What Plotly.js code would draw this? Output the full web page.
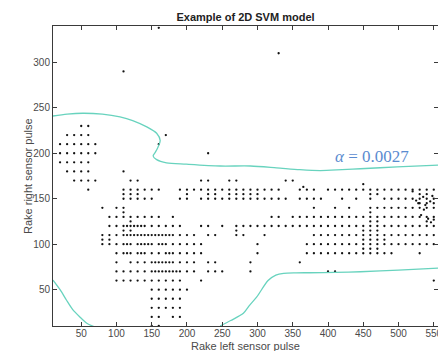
<!DOCTYPE html>
<html>
<head>
<meta charset="utf-8">
<script src="https://cdn.plot.ly/plotly-3.0.1.min.js"></script>
<style>html,body{margin:0;padding:0;background:#fff;}#chart{width:438px;height:351px;}</style>
</head>
<body>
<div id="chart"></div>
<script>
// ---- Data: sample points, grouped by y level ----
const rowY = [230,220,210,200,190,180,170,166,163,160,155,150,145,140,135,130,125,120,115,110,105,100,95,90,80,70,60,50,40,30,20,10];
const rowX = [
  [50,60],
  [30,40,50,60],
  [20,30,40,50,60,70],
  [20,30,40,50,60,70],
  [20,30,40,50,60],
  [30,40,50,60,110],
  [40,50,60,70,120,130,220,230,260,270,340,350],
  [450],
  [365],
  [60,110,120,130,140,150,160,190,200,210,220,230,240,250,260,270,280,290,300,310,320,330,360,370,380,400,410,420,430,440,450,460,470,480,490,500,510,520,530,540,550],
  [110,120,130,200,230,240,260,270,280,290,300,460,470,530,540],
  [110,120,130,140,150,190,200,220,230,240,250,260,270,280,290,300,310,320,330,340,360,370,380,390,420,440,460,480,490,500,510,520,530,540,550],
  [530,540,550],
  [80,100,110,380,410,430,460,470,480,490,500,510,520,530,540,550],
  [110,460],
  [90,100,110,120,130,140,150,160,180,320,330,350,360,370,380,390,400,410,420,430,440,450,460,470,480,490,500,510,520,530,540,550],
  [120,460,470,540],
  [90,100,110,115,120,125,130,135,140,150,160,170,180,190,220,230,250,270,280,290,300,310,320,330,340,350,360,370,380,390,400,410,420,430,440,450,460,470,480,490,500,510,520,530,540,550],
  [110,120,270,450,460,470],
  [80,90,100,110,115,120,125,130,135,140,145,150,155,160,165,170,175,180,190,200,210,230,240,270,280,310,380,390,400,410,420,430,440,450,460,470,480,490,500,510,520,530,540,550],
  [80,90,450,460,470,480],
  [80,90,100,110,115,120,130,135,140,145,150,160,165,170,180,190,200,210,220,300,370,380,390,400,410,420,430,440,450,460,470,480,490,500,510,520,530,540,550],
  [450,460,470],
  [100,110,115,120,130,135,140,150,160,170,175,180,190,200,210,220,300,370,380,390,400,410,420,430,440,450,460,470,480,490,530],
  [100,120,130,140,150,155,160,165,170,175,180,190,200,210,230,240,290,360],
  [100,110,120,130,140,150,155,160,165,170,175,180,185,190,200,210,230,240,250,290,400,410],
  [100,110,120,130,140,150,160,170,180,190,220,550],
  [150,160,170,180,190,200],
  [150,160,170,180,190],
  [150,160,170,180,190],
  [150,160,180,190],
  [150,160]
];
// scattered / off-grid points
const extraX = [160,110,330,170,160,230,525,535,545,548,538,528,542,532,546,536,520,550];
const extraY = [338,290,310,220,210,200,148,152,147,153,143,145,128,132,124,138,158,127];

// ---- Decision boundary curves ----
const upperX = [10,30,52,80,105,123,143,157,162,159,155,152,157,171,199,247,290,327,360,389,420,446,498,556];
const upperY = [241,243,244,243,240,236,229,222,214,207,201,197,193,189.5,188,186,186,184,182,181,182,183,185,187];
const lowRX = [247,262,280,289,299,315,326,337,355,374,410,446,500,556];
const lowRY = [10,16,24,33,42,60,66,68,68.5,68.6,69,69.7,71.5,73.7];
const lowLX = [10,20,29,38,48,58,69];
const lowLY = [60.5,50,38.6,28,20,13,9];

const titleText = 'Example of 2D SVM model';
const xTitle = 'Rake left sensor pulse';
const yTitle = 'Rake right sensor pulse';
const alphaText = '<i>α</i> = 0.0027';

const px = [], py = [];
rowY.forEach((y, i) => rowX[i].forEach(x => { px.push(x); py.push(y); }));
extraX.forEach((x, i) => { px.push(x); py.push(extraY[i]); });

const lineStyle = {color: '#68d3be', width: 1.3, shape: 'spline', smoothing: 0.8};
const traces = [
  {x: px, y: py, mode: 'markers', type: 'scatter', marker: {color: '#111', size: 2.3}, hoverinfo: 'none'},
  {x: upperX, y: upperY, mode: 'lines', type: 'scatter', line: lineStyle},
  {x: lowRX, y: lowRY, mode: 'lines', type: 'scatter', line: lineStyle},
  {x: lowLX, y: lowLY, mode: 'lines', type: 'scatter', line: lineStyle}
];

const axisCommon = {
  showgrid: false, zeroline: false, showline: true, mirror: 'ticks',
  linecolor: '#3a3a3a', linewidth: 1, ticks: 'inside', ticklen: 4, tickcolor: '#3a3a3a',
  ticklabeloverflow: 'allow',
  tickfont: {family: 'Liberation Sans, Arial, sans-serif', size: 10, color: '#4a4a4a'}
};

const layout = {
  width: 438, height: 351,
  margin: {l: 53, r: 0, t: 26, b: 25},
  paper_bgcolor: '#fff', plot_bgcolor: '#fff',
  showlegend: false,
  title: {text: '<b>' + titleText + '</b>', font: {family: 'Liberation Sans, Arial, sans-serif', size: 11, color: '#222'},
          x: 0.5, xref: 'paper', y: 1 - 17/351, yref: 'container', yanchor: 'middle'},
  xaxis: Object.assign({}, axisCommon, {range: [10, 556], tick0: 50, dtick: 50, ticklabelstandoff: -2}),
  yaxis: Object.assign({}, axisCommon, {range: [10, 340], tick0: 50, dtick: 50}),
  annotations: [
    {text: xTitle, xref: 'paper', yref: 'paper', x: (246 - 53) / 385, y: -(346 - 326) / 300,
     showarrow: false, xanchor: 'center', yanchor: 'middle',
     font: {family: 'Liberation Sans, Arial, sans-serif', size: 11, color: '#4a4a4a'}},
    {text: yTitle, xref: 'paper', yref: 'paper', x: -(53 - 28) / 385, y: 0.5, textangle: -90,
     showarrow: false, xanchor: 'center', yanchor: 'middle',
     font: {family: 'Liberation Sans, Arial, sans-serif', size: 11, color: '#4a4a4a'}},
    {text: alphaText, xref: 'x', yref: 'y', x: 463, y: 196, showarrow: false,
     xanchor: 'center', yanchor: 'middle',
     font: {family: 'Liberation Serif, serif', size: 17, color: '#5b8bd0'}}
  ]
};

Plotly.newPlot('chart', traces, layout, {displayModeBar: false, staticPlot: true});
</script>
</body>
</html>
